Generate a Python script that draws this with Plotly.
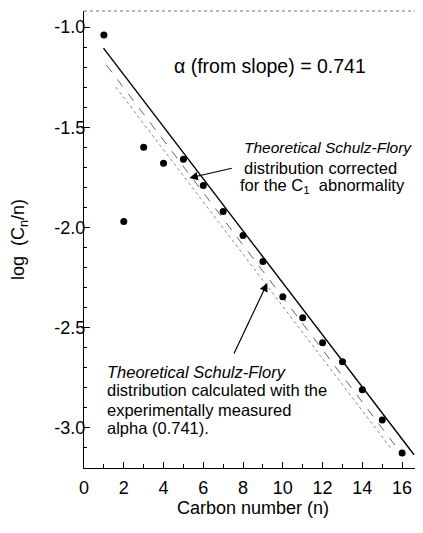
import plotly.graph_objects as go

# Experimental data
carbon_n = list(range(1, 17))
log_cn_n = [-1.04, -1.97, -1.60, -1.68, -1.66, -1.79, -1.92, -2.04,
            -2.17, -2.345, -2.45, -2.575, -2.67, -2.81, -2.96, -3.125]

# Fitted line (slope -> alpha = 0.741)
fit_n = [0.98, 16.6]
fit_log = [-1.105, -3.134]

# Theoretical SF corrected for C1 abnormality (dashed)
corr_n = [1.13, 15.9]
corr_log = [-1.19, -3.12]

# Theoretical SF with measured alpha (dotted)
calc_n = [1.6, 15.5]
calc_log = [-1.30, -3.11]

x_ticks = [0, 2, 4, 6, 8, 10, 12, 14, 16]
y_ticks = [-1.0, -1.5, -2.0, -2.5, -3.0]
y_tick_text = ["-1.0", "-1.5", "-2.0", "-2.5", "-3.0"]

FONT = "Liberation Sans, Arial, Helvetica, sans-serif"

fig = go.Figure()
fig.add_trace(go.Scatter(x=calc_n, y=calc_log, mode="lines",
                         line=dict(color="#8a8a8a", width=1, dash="dot"),
                         showlegend=False, hoverinfo="skip"))
fig.add_trace(go.Scatter(x=corr_n, y=corr_log, mode="lines",
                         line=dict(color="#666666", width=1, dash="dash"),
                         showlegend=False, hoverinfo="skip"))
fig.add_trace(go.Scatter(x=fit_n, y=fit_log, mode="lines",
                         line=dict(color="black", width=1.4),
                         showlegend=False, hoverinfo="skip"))
fig.add_trace(go.Scatter(x=carbon_n, y=log_cn_n, mode="markers",
                         marker=dict(color="black", size=7),
                         showlegend=False))

ann = []
ann.append(dict(x=4.45, y=-1.195, xref="x", yref="y", xanchor="left", yanchor="middle",
                text="\u03b1 (from slope) = 0.741", showarrow=False,
                font=dict(size=19.5, color="black", family=FONT)))

AF = dict(size=16.5, color="black", family=FONT)
AFI = dict(size=15.5, color="black", family=FONT)
lines1 = [("<i>Theoretical Schulz-Flory</i>", 7.96, -1.603, AFI),
          ("distribution corrected", 7.96, -1.703, AF),
          ("for the C<sub>1</sub>  abnormality", 7.76, -1.793, AF)]
for t, x, y, f in lines1:
    ann.append(dict(x=x, y=y, xref="x", yref="y", xanchor="left", yanchor="middle",
                    text=t, showarrow=False, font=f))
lines2 = [("<i>Theoretical Schulz-Flory</i>", 1.08, -2.721, AF),
          ("distribution calculated with the", 1.08, -2.810, AF),
          ("experimentally measured", 1.08, -2.910, AF),
          ("alpha (0.741).", 1.08, -3.0, AF)]
for t, x, y, f in lines2:
    ann.append(dict(x=x, y=y, xref="x", yref="y", xanchor="left", yanchor="middle",
                    text=t, showarrow=False, font=f))

# arrows
ann.append(dict(x=5.30, y=-1.753, ax=7.51, ay=-1.703, xref="x", yref="y",
                axref="x", ayref="y", text="", showarrow=True, arrowhead=2,
                arrowsize=1.4, arrowwidth=1.2, arrowcolor="black", standoff=0, startstandoff=0))
ann.append(dict(x=9.22, y=-2.277, ax=7.51, ay=-2.636, xref="x", yref="y",
                axref="x", ayref="y", text="", showarrow=True, arrowhead=2,
                arrowsize=1.4, arrowwidth=1.2, arrowcolor="black", standoff=0, startstandoff=0))

fig.update_layout(
    width=415, height=525,
    margin=dict(l=76, r=1, t=3, b=65),
    paper_bgcolor="white", plot_bgcolor="white",
    font=dict(family=FONT, color="black"),
    annotations=ann,
    shapes=[dict(type="line", xref="paper", yref="paper", x0=0, x1=1, y0=1, y1=1,
                 line=dict(color="#777777", width=1, dash="dot"))],
    xaxis=dict(range=[0, 17], showgrid=False, zeroline=False, automargin=False,
               showline=True, linecolor="black", linewidth=1,
               tickmode="array", tickvals=x_ticks, ticks="inside", ticklen=6,
               tickcolor="black", tickfont=dict(size=18, color="black"),
               ticklabelstandoff=3,
               minor=dict(dtick=1, ticks="inside", ticklen=4, tickcolor="black"),
               title=dict(text="Carbon number (n)", font=dict(size=18, color="black"), standoff=0)),
    yaxis=dict(range=[-3.2, -0.92], showgrid=False, zeroline=False, automargin=False,
               showline=True, linecolor="black", linewidth=1,
               tickmode="array", tickvals=y_ticks, ticktext=y_tick_text,
               ticks="inside", ticklen=6, tickcolor="black",
               tickfont=dict(size=18, color="black"), ticklabelstandoff=-6,
               minor=dict(dtick=0.1, ticks="inside", ticklen=3, tickcolor="black"),
               title=dict(text="log  (C<sub>n</sub>/n)", font=dict(size=18, color="black"), standoff=25)),
)

fig.write_html("out.html")
